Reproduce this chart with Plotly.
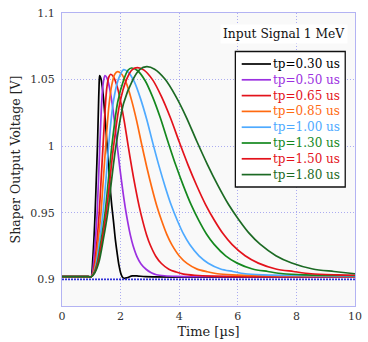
import plotly.graph_objects as go

# ---------------- data ----------------
labels = ["tp=0.30 us", "tp=0.50 us", "tp=0.65 us", "tp=0.85 us",
          "tp=1.00 us", "tp=1.30 us", "tp=1.50 us", "tp=1.80 us"]
colors = ["#000000", "#9b30e0", "#e3121b", "#ff6a10",
          "#4eaaff", "#14881e", "#e3121b", "#1c6a24"]

t_030 = [0, 0.9, 1.0, 1.02, 1.05, 1.09, 1.13, 1.17, 1.21, 1.245, 1.265, 1.285, 1.324, 1.378, 1.432, 1.486,
         1.54, 1.6, 1.65, 1.7, 1.76, 1.82, 1.88, 1.94, 2.0, 2.06, 2.12, 2.22, 2.4, 2.6, 2.85, 10]
v_030 = [0.902, 0.902, 0.902, 0.905, 0.915, 0.93, 0.95, 0.975, 1.0, 1.03, 1.045, 1.053, 1.0512, 1.0439, 1.0319, 1.0168,
         1.0, 0.982, 0.967, 0.955, 0.943, 0.93, 0.92, 0.911, 0.905, 0.9018, 0.9008, 0.9012, 0.9026, 0.9025, 0.902, 0.902]

t_050 = [0, 0.9, 1.0, 1.04, 1.08, 1.14, 1.2, 1.29, 1.36, 1.41, 1.467, 1.534, 1.623, 1.712, 1.801, 1.89, 1.979,
         2.068, 2.157, 2.246, 2.335, 2.424, 2.558, 2.691, 2.869, 3.047, 3.225, 3.49, 3.9, 4.5, 10]
v_050 = [0.902, 0.902, 0.902, 0.905, 0.913, 0.93, 0.95, 1.0, 1.035, 1.048, 1.053, 1.0512, 1.0439, 1.0319, 1.0168, 0.9994, 0.9828,
         0.9677, 0.9541, 0.9428, 0.933, 0.9254, 0.9171, 0.9118, 0.9076, 0.905, 0.9035, 0.9027, 0.9022, 0.902, 0.902]

t_065 = [0, 0.9, 1.0, 1.06, 1.12, 1.2, 1.27, 1.335, 1.4, 1.47, 1.53, 1.6, 1.6615, 1.756, 1.882, 2.008, 2.134, 2.26,
         2.386, 2.512, 2.638, 2.764, 2.89, 3.016, 3.205, 3.394, 3.646, 3.898, 4.15, 4.528, 5.095, 10]
v_065 = [0.902, 0.902, 0.902, 0.905, 0.913, 0.93, 0.95, 0.975, 1.0, 1.027, 1.044, 1.052, 1.054, 1.0522, 1.0449, 1.0327, 1.0175, 1.0,
         0.9833, 0.9681, 0.9544, 0.943, 0.9332, 0.9256, 0.9172, 0.9119, 0.9076, 0.9055, 0.904, 0.9031, 0.9025, 0.902]

t_085 = [0, 0.9, 1.0, 1.07, 1.15, 1.24, 1.33, 1.41, 1.49, 1.6, 1.7, 1.8, 1.903, 2.032, 2.204, 2.376, 2.548, 2.72,
         2.892, 3.064, 3.236, 3.408, 3.58, 3.752, 4.01, 4.268, 4.612, 4.956, 5.3, 5.816, 6.59, 10]
v_085 = [0.902, 0.902, 0.902, 0.905, 0.913, 0.93, 0.95, 0.975, 1.0, 1.03, 1.046, 1.054, 1.056, 1.0542, 1.0468, 1.0344, 1.019, 1.0013,
         0.9844, 0.969, 0.9551, 0.9436, 0.9336, 0.9259, 0.9174, 0.912, 0.9077, 0.9057, 0.9042, 0.9034, 0.9029, 0.9022]

t_100 = [0, 0.9, 1.0, 1.09, 1.18, 1.29, 1.4, 1.5, 1.59, 1.75, 1.92, 2.1025, 2.26, 2.47, 2.68, 2.89, 3.1, 3.31,
         3.52, 3.73, 3.94, 4.15, 4.36, 4.675, 4.99, 5.41, 5.83, 6.25, 6.88, 7.83, 10]
v_100 = [0.902, 0.902, 0.902, 0.905, 0.913, 0.93, 0.95, 0.975, 1.0, 1.033, 1.05, 1.0575, 1.0556, 1.0482, 1.0357, 1.0202, 1.0023, 0.9852,
         0.9696, 0.9556, 0.944, 0.9339, 0.9261, 0.9176, 0.9121, 0.9078, 0.9059, 0.9042, 0.9034, 0.9029, 0.9025]

t_130 = [0, 0.9, 1.0, 1.1, 1.21, 1.34, 1.47, 1.59, 1.7, 1.9, 2.11, 2.25, 2.376, 2.572, 2.834, 3.096, 3.358, 3.62,
         3.882, 4.144, 4.406, 4.668, 4.93, 5.192, 5.585, 5.978, 6.502, 7.026, 7.55, 8.336, 9.515, 10]
v_130 = [0.902, 0.902, 0.902, 0.905, 0.913, 0.93, 0.95, 0.976, 1.0, 1.033, 1.05, 1.057, 1.0587, 1.0568, 1.0493, 1.0368, 1.0211, 1.0031,
         0.9858, 0.9702, 0.9561, 0.9443, 0.9341, 0.9263, 0.9177, 0.9122, 0.9078, 0.9059, 0.9042, 0.9034, 0.9029, 0.9028]

t_150 = [0, 0.9, 1.0, 1.11, 1.23, 1.37, 1.51, 1.64, 1.76, 1.97, 2.2, 2.4, 2.575, 2.8, 3.1, 3.4, 3.7, 4.0,
         4.3, 4.6, 4.9, 5.2, 5.5, 5.8, 6.25, 6.7, 7.3, 7.9, 8.5, 9.4, 10]
v_150 = [0.902, 0.902, 0.902, 0.905, 0.913, 0.93, 0.95, 0.976, 1.0, 1.032, 1.05, 1.0575, 1.059, 1.0571, 1.0496, 1.037, 1.0213, 1.0033,
         0.986, 0.9703, 0.9562, 0.9444, 0.9342, 0.9263, 0.9177, 0.9122, 0.9078, 0.9059, 0.9042, 0.9034, 0.9031]

t_180 = [0, 0.9, 1.0, 1.12, 1.26, 1.41, 1.56, 1.7, 1.84, 2.1, 2.42, 2.65, 2.89, 3.16, 3.52, 3.88, 4.24, 4.6,
         4.96, 5.32, 5.68, 6.04, 6.4, 6.76, 7.3, 7.84, 8.56, 9.28, 10]
v_180 = [0.902, 0.902, 0.902, 0.905, 0.913, 0.93, 0.95, 0.976, 1.0, 1.032, 1.05, 1.0575, 1.0597, 1.0578, 1.0502, 1.0376, 1.0219, 1.0037,
         0.9864, 0.9706, 0.9564, 0.9446, 0.9343, 0.9264, 0.9178, 0.9123, 0.9078, 0.9059, 0.9042]

series_t = [t_030, t_050, t_065, t_085, t_100, t_130, t_150, t_180]
series_v = [v_030, v_050, v_065, v_085, v_100, v_130, v_150, v_180]

x_ticks = [0, 2, 4, 6, 8, 10]
y_ticks = [0.9, 0.95, 1.0, 1.05, 1.1]
y_ticktext = ["0.9", "0.95", "1", "1.05", "1.1"]
title_text = "Input Signal 1 MeV"

# ---------------- figure ----------------
FONT = "DejaVu Serif"
W, H = 368, 342
ML, MR, MT, MB = 62, 6, 13, 36
PW, PH = W - ML - MR, H - MT - MB

def px_x(p):
    return (p - ML) / PW

def px_y(p):
    return 1 - (p - MT) / PH

fig = go.Figure()
for t, v, name, c in zip(series_t, series_v, labels, colors):
    fig.add_trace(go.Scatter(x=t, y=v, mode="lines", name=name,
                             line=dict(color=c, width=1.7, shape="spline", smoothing=0.8),
                             showlegend=False))

grid_col = "rgba(120,120,235,0.6)"
frame_col = "rgba(160,160,240,0.8)"
fig.update_xaxes(range=[0, 10], tickvals=x_ticks, showgrid=True, gridcolor=grid_col,
                 griddash="1px,2px", gridwidth=1, zeroline=False, showline=True,
                 linecolor=frame_col, linewidth=1, mirror=True, ticks="",
                 ticklabeloverflow="allow",
                 tickfont=dict(family=FONT, size=11, color="#333"),
                 title=dict(text="Time [µs]", font=dict(family=FONT, size=13, color="#222"), standoff=4))
fig.update_yaxes(range=[0.88, 1.1], tickvals=y_ticks, ticktext=y_ticktext, showgrid=True,
                 gridcolor=grid_col, griddash="1px,2px", gridwidth=1, zeroline=False,
                 showline=True, linecolor=frame_col, linewidth=1, mirror=True, ticks="",
                 ticklabelstandoff=4, ticklabeloverflow="allow",
                 tickfont=dict(family=FONT, size=11, color="#333"),
                 title=dict(text="Shaper Output Voltage [V]", font=dict(family=FONT, size=12.5, color="#222"), standoff=6))

shapes = [
    dict(type="line", xref="paper", yref="y", x0=0, x1=1, y0=0.9, y1=0.9,
         line=dict(color="#3030d8", width=1.6, dash="2px,1px"), layer="above"),
    dict(type="rect", xref="paper", yref="paper", x0=px_x(239.5), x1=px_x(352),
         y0=px_y(187), y1=px_y(51.5), fillcolor="white", line=dict(color="#111", width=1.3),
         layer="above"),
]
annotations = [
    dict(text=title_text, xref="paper", yref="paper", x=px_x(355), y=px_y(34),
         xanchor="right", yanchor="middle", showarrow=False, bgcolor="white",
         borderpad=2, font=dict(family=FONT, size=12.3, color="#111")),
]
for i, (name, c) in enumerate(zip(labels, colors)):
    yy = px_y(64 + 15.8 * i)
    shapes.append(dict(type="line", xref="paper", yref="paper", x0=px_x(246), x1=px_x(276),
                       y0=yy, y1=yy, line=dict(color=c, width=1.7), layer="above"))
    annotations.append(dict(text=name, xref="paper", yref="paper", x=px_x(276.5), y=yy,
                            xanchor="left", yanchor="middle", showarrow=False,
                            font=dict(family=FONT, size=12, color=c)))

fig.update_layout(width=W, height=H, margin=dict(l=ML, r=MR, t=MT, b=MB),
                  paper_bgcolor="white", plot_bgcolor="#f9f9f9",
                  shapes=shapes, annotations=annotations, showlegend=False)

fig.write_html("out.html")
